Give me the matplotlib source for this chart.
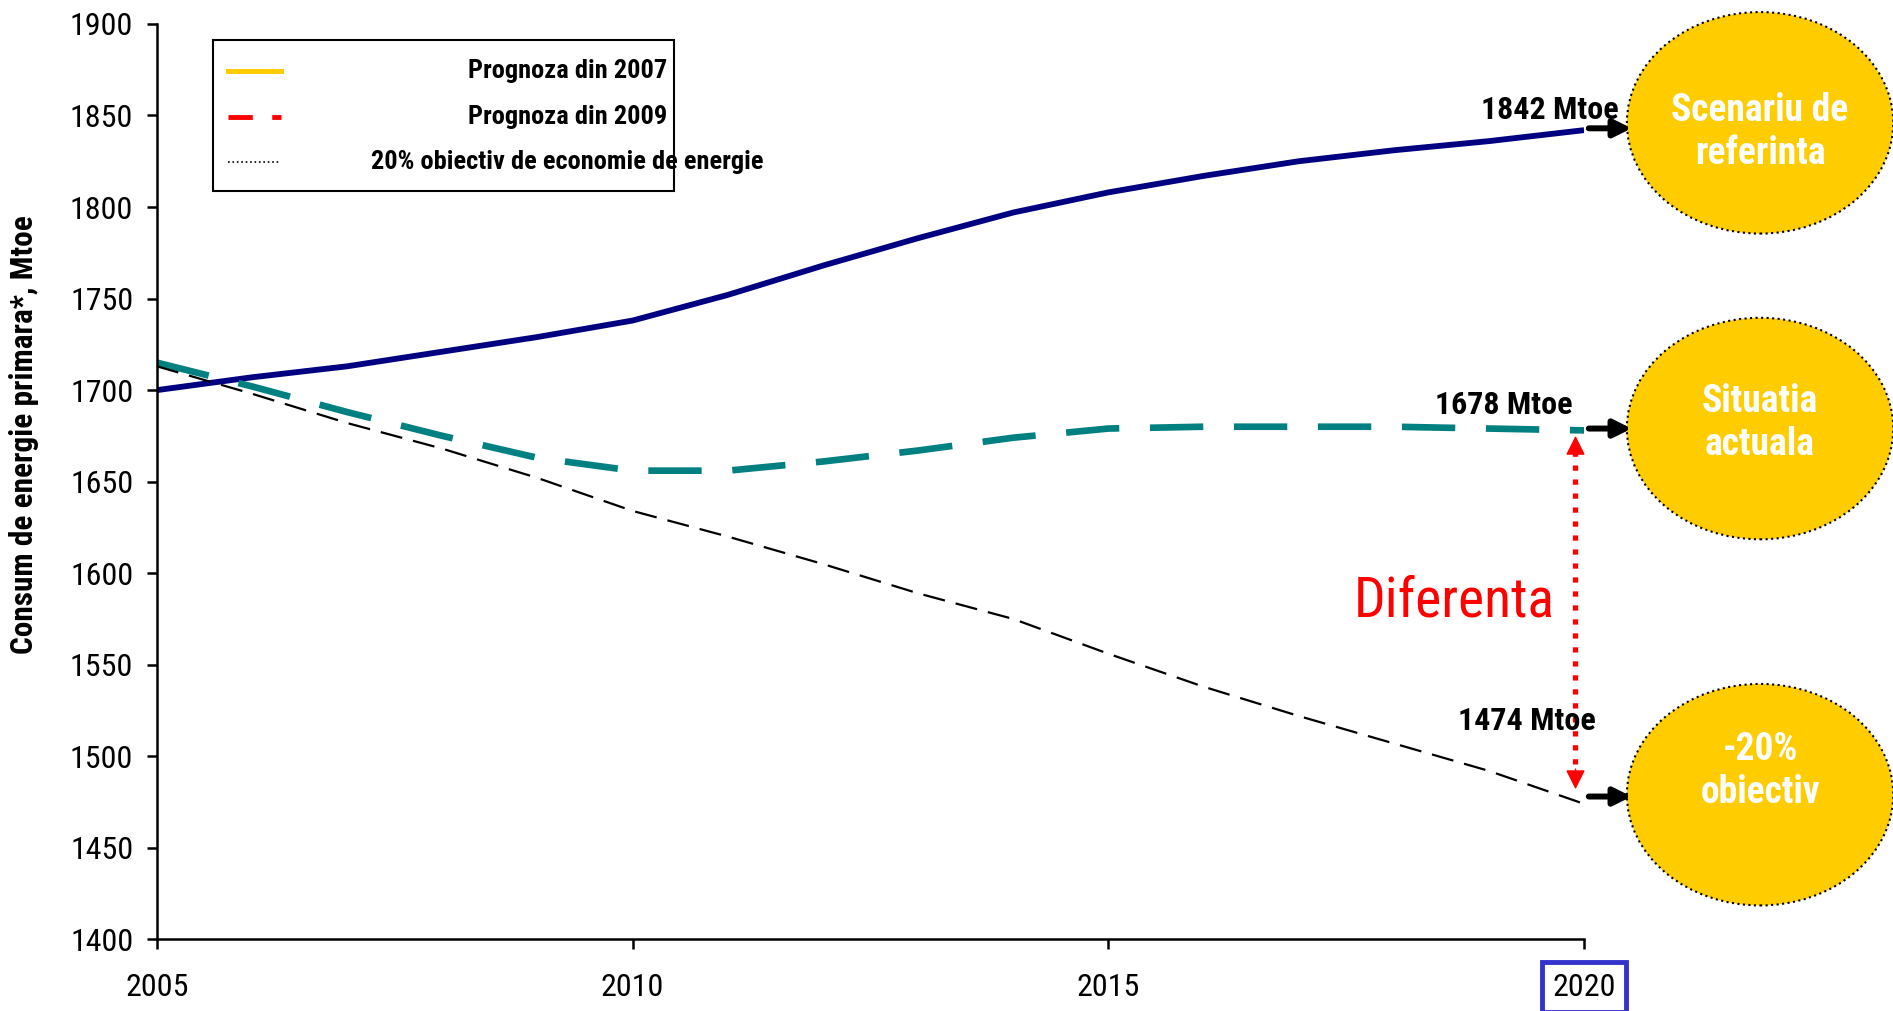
import numpy as np
import matplotlib.pyplot as plt
from matplotlib.patches import Ellipse, Rectangle
from matplotlib.lines import Line2D

# values (Mtoe)
years = [2005, 2006, 2007, 2008, 2009, 2010, 2011, 2012, 2013,
         2014, 2015, 2016, 2017, 2018, 2019, 2020]
ref_scenario = [1700, 1707, 1713, 1721, 1729, 1738, 1752, 1768, 1783,
                1797, 1808, 1817, 1825, 1831, 1836, 1842]
current_2009 = [1715, 1702, 1688, 1675, 1663, 1656, 1656, 1661, 1667,
                1674, 1679, 1680, 1680, 1680, 1679, 1678]
target_20 = [1713, 1698, 1682, 1668, 1652, 1634, 1620, 1605, 1589,
             1575, 1556, 1538, 1522, 1507, 1492, 1474]

legend_labels = ['Prognoza din 2007', 'Prognoza din 2009',
                 '20% obiectiv de economie de energie']
bubble_texts = ['Scenariu de\nreferinta', 'Situatia\nactuala', '-20%\nobiectiv']
end_labels = ['1842 Mtoe', '1678 Mtoe', '1474 Mtoe']
yticks = list(range(1400, 1901, 50))
xticks = [2005, 2010, 2015, 2020]

# original uses a narrow Arial, Roboto Condensed is the closest installed
NARROW = ['Roboto Condensed', 'Liberation Sans', 'DejaVu Sans']
GOLD = '#FFCC00'

fig = plt.figure(figsize=(18.93, 10.11), dpi=100)
ax = fig.add_axes([0.0829, 0.0709, 0.7539, 0.9054])

ax.plot(years, ref_scenario, color='#000080', lw=4.2, solid_capstyle='butt')
ax.plot(years, current_2009, color='#008080', lw=4.8, dashes=(8, 4.6))
ax.plot(years, target_20, color='black', lw=1.6, dashes=(10, 5))

ax.set_xlim(2005, 2020)
ax.set_ylim(1400, 1900)
ax.set_xticks(xticks)
ax.set_yticks(yticks)
for s in ['top', 'right']:
    ax.spines[s].set_visible(False)
for s in ['left', 'bottom']:
    ax.spines[s].set_linewidth(1.8)
ax.tick_params(axis='both', direction='out', length=7, width=1.8,
               labelsize=23)
ax.tick_params(axis='y', pad=10)
ax.tick_params(axis='x', pad=17)
for lab in ax.get_xticklabels() + ax.get_yticklabels():
    lab.set_family(NARROW)
ax.get_xticklabels()[-1].set_bbox(dict(facecolor='white', edgecolor='#3333CC',
                                       lw=3.5, boxstyle='square,pad=0.32'))

fig.text(0.0127, 0.5697, 'Consum de energie primara*, Mtoe', rotation=90,
         ha='center', va='center', fontsize=22.5, fontweight='bold',
         family=NARROW)

# bubbles on the right, arrows pointing at them
bubble_y = [1846, 1679, 1479]
arrow_y = [1843, 1679, 1478]
text_y = [1841, 1682, 1492]
label_pos = [(2019.64, 1853), (2019.16, 1692), (2019.40, 1519)]
for i in range(3):
    e = Ellipse((2021.85, bubble_y[i]), 2.8, 121, facecolor=GOLD,
                edgecolor='black', lw=1.5, ls=':', clip_on=False)
    ax.add_patch(e)
    ax.text(2021.85, text_y[i], bubble_texts[i], ha='center', va='center',
            color='white', fontsize=27, fontweight='bold', family=NARROW,
            linespacing=1.2, clip_on=False)
    ax.annotate('', xy=(2020.5, arrow_y[i]), xytext=(2020.05, arrow_y[i]),
                arrowprops=dict(arrowstyle='-|>', color='black', lw=4.3,
                                mutation_scale=26, shrinkA=0, shrinkB=0),
                annotation_clip=False)
    ax.text(label_pos[i][0], label_pos[i][1], end_labels[i], ha='center',
            va='center', fontsize=23, fontweight='bold', family=NARROW)

# red dotted double arrow for the gap
ax.plot([2019.91, 2019.91], [1667, 1490], color='red', lw=3.8, ls=':')
for y0, y1 in [(1664, 1675), (1493, 1482)]:
    ax.annotate('', xy=(2019.91, y1), xytext=(2019.91, y0),
                arrowprops=dict(arrowstyle='-|>', color='red', lw=1,
                                mutation_scale=30, shrinkA=0, shrinkB=0))
ax.text(2018.64, 1585, 'Diferenta', color='red', ha='center', va='center',
        fontsize=40, family=NARROW)

# hand drawn legend box (third label runs past the frame like the original)
fig.patches.append(Rectangle((0.1123, 0.8113), 0.2436, 0.1491,
                             transform=fig.transFigure, facecolor='white',
                             edgecolor='black', lw=1.5, zorder=5))
rows = [0.9298, 0.8843, 0.8398]
handles = [dict(color=GOLD, lw=3.6),
           dict(color='red', lw=3.5, dashes=(5, 4)),
           dict(color='black', lw=1.2, ls=':')]
for r, h, lab in zip(rows, handles, legend_labels):
    fig.lines.append(Line2D([0.1204, 0.1484], [r, r], transform=fig.transFigure,
                            zorder=6, **h))
    fig.text(0.2998, r, lab, ha='center', va='center', fontsize=19,
             fontweight='bold', family=NARROW, zorder=7)

fig.savefig('out.png', dpi=100, facecolor='white')
